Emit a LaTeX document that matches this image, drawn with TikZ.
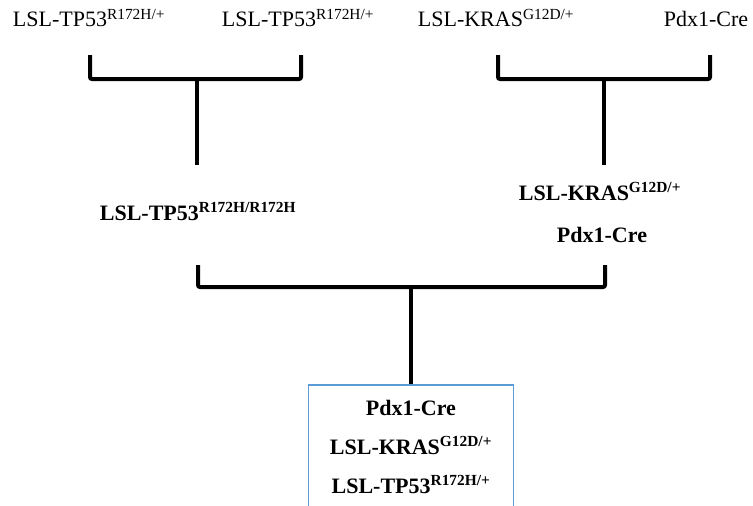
\documentclass[tikz,border=0pt]{standalone}
\usepackage{fontspec}
\setmainfont{Liberation Serif}
\usepackage{xcolor}
\definecolor{boxblue}{RGB}{91,155,213}
\tikzset{
  parent/.style={anchor=base, inner sep=0pt, font=\fontsize{22}{26}\selectfont},
  child/.style={parent, font=\fontsize{22}{26}\selectfont\bfseries},
  bracket/.style={line width=4pt, rounded corners=2pt},
  stem/.style={line width=4pt},
  offspring/.style={draw=boxblue, line width=1.5pt, anchor=north, align=center,
    minimum width=205pt, inner xsep=0pt, inner ysep=15pt, text depth=20pt,
    font=\fontsize{22}{39}\selectfont\bfseries}
}
\begin{document}
\begin{tikzpicture}[x=1pt, y=-1pt]
      \useasboundingbox (0,0) rectangle (753,506);
      \clip (0,0) rectangle (753,506);
      % first cross
      \node[parent] (tpA) at (89,27) {LSL-TP53\textsuperscript{R172H/+}};
      \node[parent] (tpB) at (298,27) {LSL-TP53\textsuperscript{R172H/+}};
      \node[parent] (kras) at (496,27) {LSL-KRAS\textsuperscript{G12D/+}};
      \node[parent] (cre) at (706,27) {Pdx1-Cre};
      \coordinate (tpAend) at (90,55);
      \coordinate (tpBend) at (301,55);
      \coordinate (krasEnd) at (498,55);
      \coordinate (creEnd) at (710,55);
      \draw[bracket] (tpAend) -- ++(0,24) -| (tpBend);
      \draw[bracket] (krasEnd) -- ++(0,24) -| (creEnd);
      \coordinate (tpMid) at (197,79);
      \coordinate (tpFoot) at (197,165);
      \coordinate (krasMid) at (604,79);
      \coordinate (krasFoot) at (604,165);
      \draw[stem] (tpMid) -- (tpFoot);
      \draw[stem] (krasMid) -- (krasFoot);

      % second cross
      \node[child] (tpHomo) at (198,220) {LSL-TP53\textsuperscript{R172H/R172H}};
      \node[child] (krasCre) at (600,200) {LSL-KRAS\textsuperscript{G12D/+}};
      \node[child] (creB) at (602,242) {Pdx1-Cre};
      \coordinate (tpHomoEnd) at (198,265);
      \coordinate (krasCreEnd) at (605,265);
      \draw[bracket] (tpHomoEnd) -- ++(0,22) -| (krasCreEnd);
      \coordinate (crossMid) at (411,287);

      \node[offspring] (mouse) at (411,384) {Pdx1-Cre\\LSL-KRAS\textsuperscript{G12D/+}\\LSL-TP53\textsuperscript{R172H/+}};
      \draw[stem] (crossMid) -- (mouse.north);
\end{tikzpicture}
\end{document}
